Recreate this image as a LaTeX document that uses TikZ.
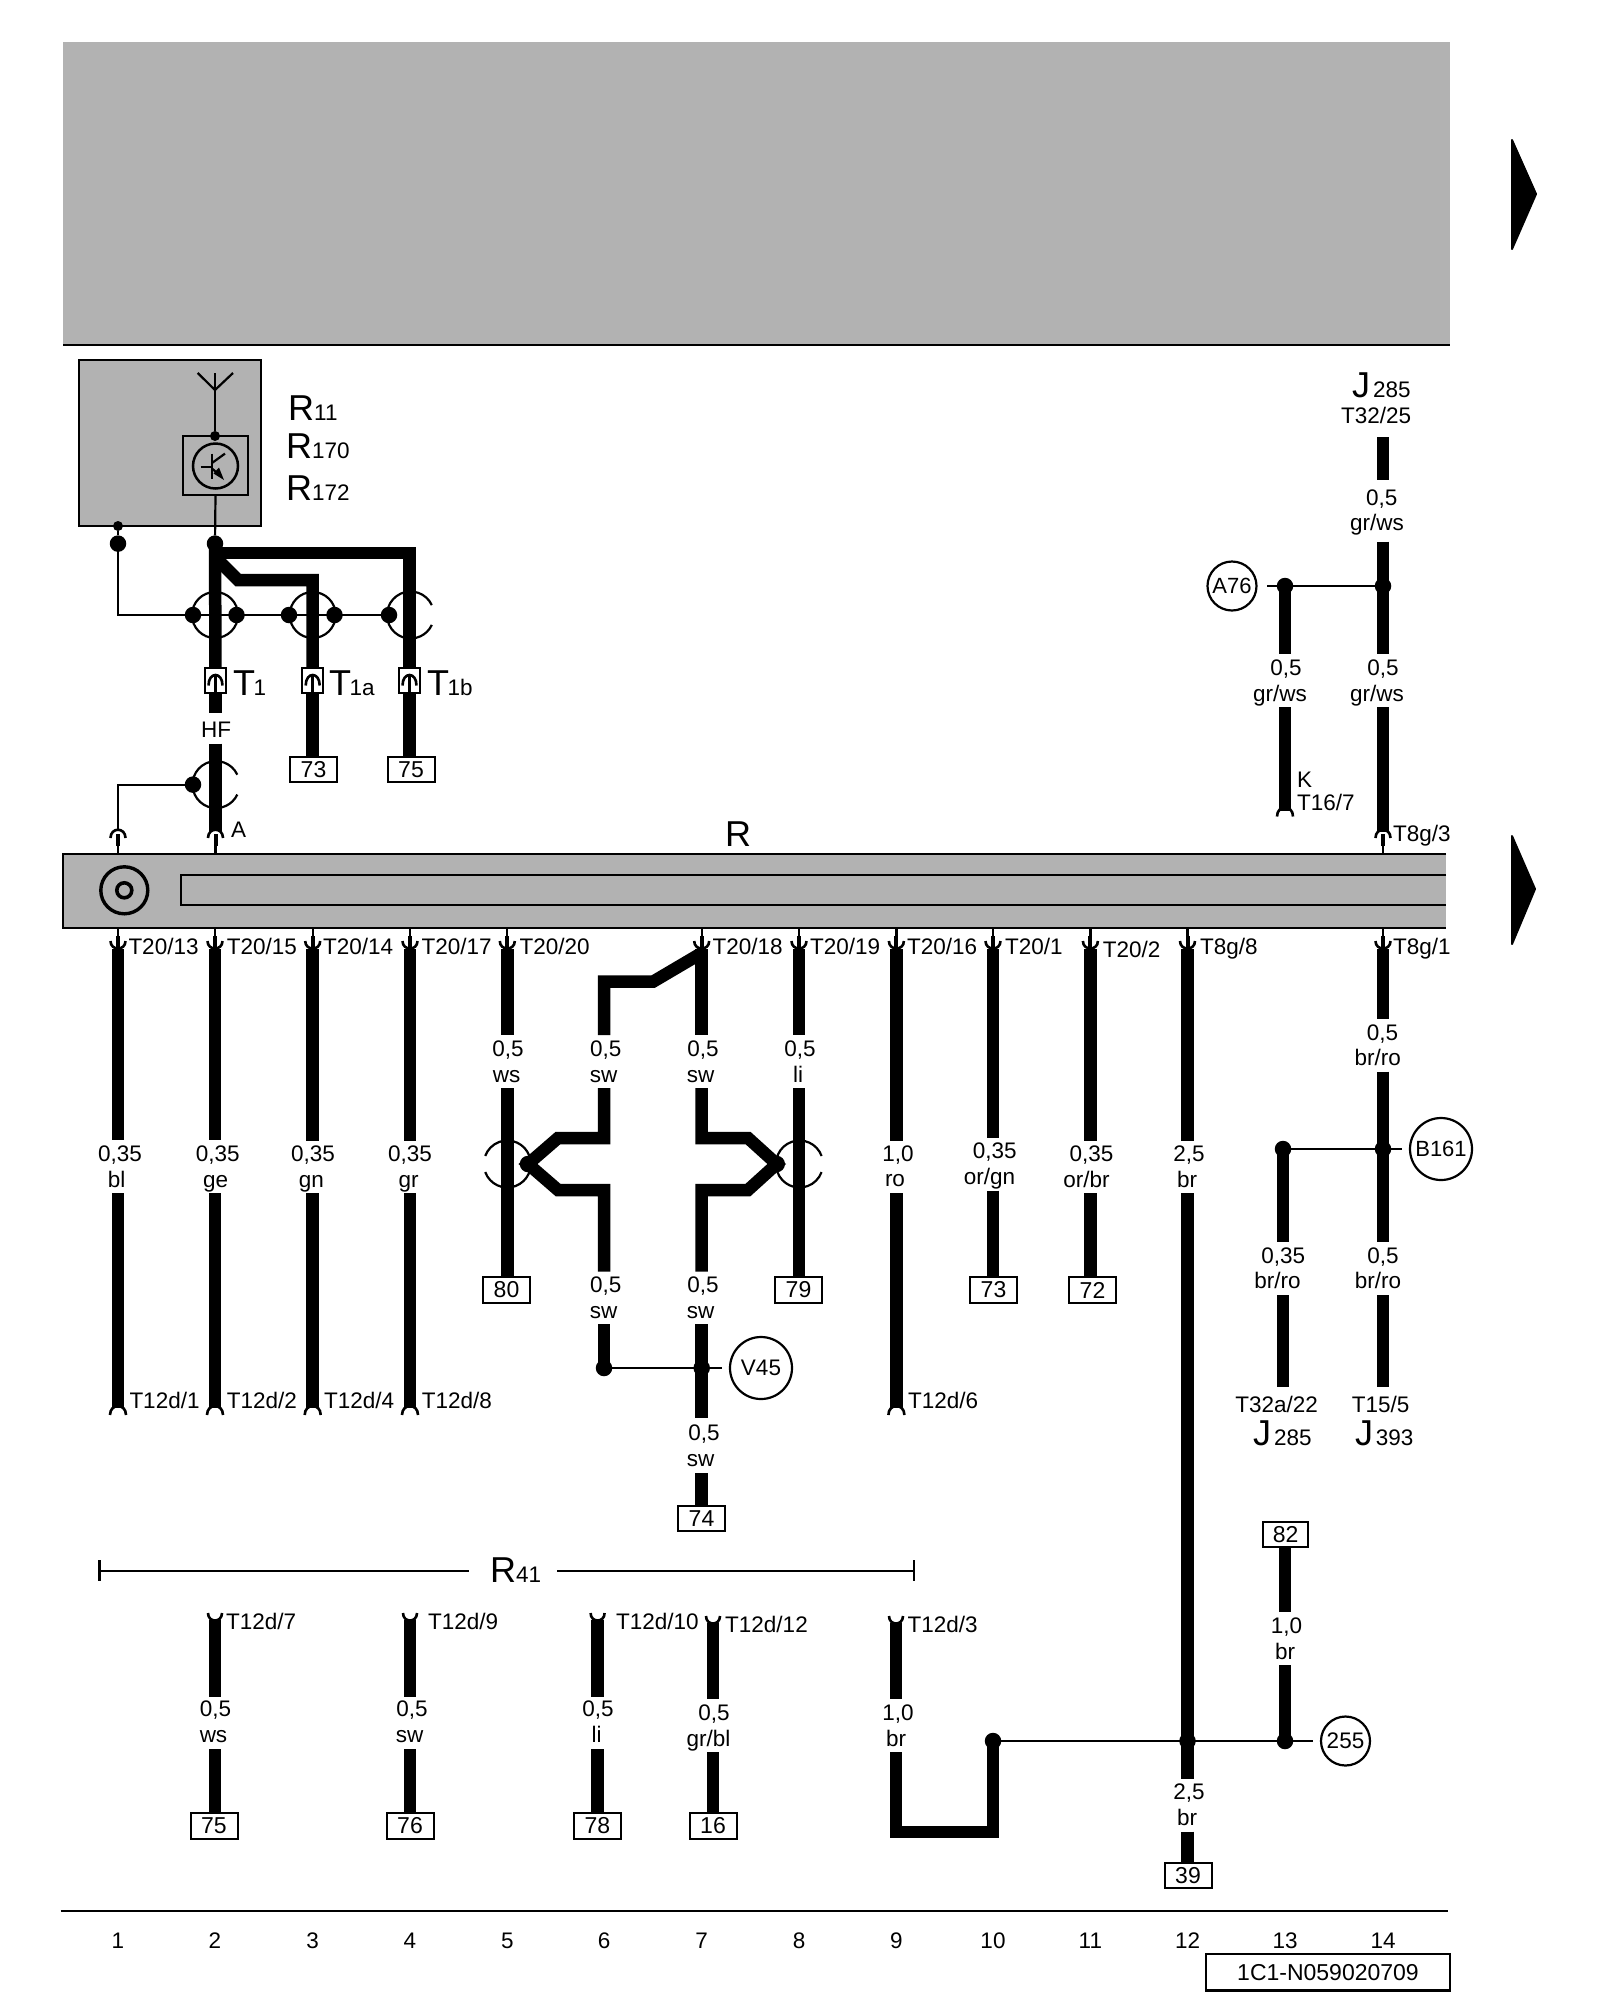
\documentclass[tikz,border=0pt]{standalone}
\usepackage{fontspec}
\setmainfont{Liberation Sans}
\definecolor{grayfill}{HTML}{B2B2B2}
\newcounter{lb}
\newcommand\fs[1]{\fontsize{#1}{#1}\selectfont}
\tikzset{
  wire/.style={line width=12.5pt,line join=miter,line cap=butt},
  thinw/.style={line width=2.2pt},
  capline/.style={line width=2.6pt},
  dotn/.style={circle,fill=black,inner sep=0pt,minimum size=16.5pt,outer sep=0pt},
  dots/.style={circle,fill=black,inner sep=0pt,minimum size=10pt,outer sep=0pt},
  numbox/.style={draw=black,fill=white,line width=2pt,inner sep=0pt,minimum width=47pt,minimum height=25.5pt,outer sep=0pt,font=\fs{23}},
  circn/.style={draw=black,fill=white,circle,line width=2.2pt,inner sep=0pt,outer sep=0pt,font=\fs{22.5}},
  tx/.style={font=\fs{22.5},inner sep=0pt,anchor=base west},
  tc/.style={font=\fs{22.5},inner sep=0pt,anchor=base},
  bigt/.style={font=\fs{36},inner sep=0pt,anchor=base west},
  subt/.style={font=\fs{22.5},inner sep=0pt,anchor=base west},
  conbox/.style={draw=black,fill=white,line width=2pt,inner sep=0pt,minimum width=21pt,minimum height=25pt,outer sep=0pt},
  shield/.style={line width=2.2pt}
}
\newcommand\lab[4]{\stepcounter{lb}\node[#1] (lb\arabic{lb}) at (#2,#3) {#4};}
\newcommand\wseg[4]{\coordinate (#1a) at (#2,#3);\coordinate (#1b) at (#2,#4);\draw[wire] (#1a) -- (#1b);}
\newcommand\pair[6]{\lab{tc}{#1}{#3}{#5}\lab{tc}{#2}{#4}{#6}}
\newcommand\cupdown[1]{%
  \draw[thinw] (#1,928) -- (#1,940);
  \draw[line width=4pt] (#1,936) -- (#1,947);
  \draw[capline] (#1-7.5,941) .. controls (#1-7.5,951) and (#1+7.5,951) .. (#1+7.5,941);
}
\newcommand\plugup[1]{%
  \draw[thinw] (#1,854) -- (#1,842);
  \draw[line width=4pt] (#1,846) -- (#1,834);
  \draw[capline] (#1-7.5,838) .. controls (#1-7.5,827) and (#1+7.5,827) .. (#1+7.5,838);
}
\newcommand\capend[2]{\draw[capline] (#1-8,#2) .. controls (#1-8,#2-12) and (#1+8,#2-12) .. (#1+8,#2);}
\newcommand\cuptop[2]{\draw[capline] (#1-7,#2) .. controls (#1-7,#2+10) and (#1+7,#2+10) .. (#1+7,#2);}
\newcommand\tbox[3]{%
  \node[conbox] (#1) at (#2,#3) {};
  \draw[capline] (#2-7,#3+5) .. controls (#2-7,#3-9) and (#2+7,#3-9) .. (#2+7,#3+5);
  \draw[line width=3pt] (#2,#3-5) -- (#2,#3+12);
}
\newcommand\shieldgap[4]{\draw[shield] ([shift={(#1,#2)}]#3:23.5pt) arc[start angle=#3,end angle=#4,radius=23.5pt];}
\begin{document}
\begin{tikzpicture}[x=1pt,y=-1pt]
\useasboundingbox (0,0) rectangle (1600,2000);
\fill[grayfill] (63,42) rectangle (1450,345);
\draw[line width=2.5pt] (63,345) -- (1450,345);
\fill[black,line join=round,draw=black,line width=2pt] (1512,140) -- (1536,194) -- (1512,249) -- cycle;
\fill[black,line join=round,draw=black,line width=2pt] (1512,836) -- (1535,889) -- (1512,944) -- cycle;
\node[draw=black,fill=grayfill,line width=2.2pt,minimum width=182pt,minimum height=166pt,inner sep=0pt,outer sep=0pt] (Rbox) at (170,443) {};
\node[draw=black,fill=grayfill,line width=2.2pt,minimum width=65pt,minimum height=59pt,inner sep=0pt,outer sep=0pt] (Rinner) at (215.5,465.5) {};
\node[circle,draw=black,line width=2.5pt,minimum size=45pt,inner sep=0pt,outer sep=0pt] (Rtr) at (215.5,466) {};
\coordinate (ant) at (215,390);
\coordinate (antL) at (197.7,373);
\coordinate (antR) at (233,373);
\coordinate (antT) at (215,373);
\draw[thinw] (antL) -- (ant) -- (antR);
\draw[thinw] (antT) -- (ant);
\node[dots] (dInner) at (215,436) {};
\draw[thinw] (ant) -- (dInner);
\draw[line width=2.4pt] (212,453.6) -- (212,479);
\draw[line width=2.2pt] (200.7,466.8) -- (212,466.8);
\draw[line width=2.2pt] (212,463) -- (225,453.6);
\draw[line width=2.2pt] (212,468.6) -- (221,476);
\fill (224,480) -- (213.5,473.5) -- (219,467.5) -- cycle;
\node[dots] (dSmall) at (118,526) {};
\node[dotn] (dL) at (118,543.6) {};
\node[dotn] (dM) at (215,543.6) {};
\draw[thinw] (dSmall) -- (dL);
\draw[thinw] (Rinner.south) -- (dM);
\draw[shield] (215,615) circle[radius=23];
\draw[shield] (312.7,615) circle[radius=23];
\shieldgap{410.5}{615}{25}{335}
\shieldgap{216}{784.6}{25}{335}
\node[dotn] (s1) at (193,615) {};
\node[dotn] (s2) at (236.5,615) {};
\node[dotn] (s3) at (289,615) {};
\node[dotn] (s4) at (334.5,615) {};
\node[dotn] (s5) at (389,615) {};
\draw[thinw] (dL.center) |- (s1.center);
\draw[thinw] (s1.center) -- (s2.center) -- (s3.center) -- (s4.center) -- (s5.center);
\node[numbox] (b73) at (313.5,769.5) {73};
\node[numbox] (b75) at (411,769.5) {75};
\tbox{t1}{215.5}{680.5}
\tbox{t1a}{312.7}{680.5}
\tbox{t1b}{409.5}{680.5}
\draw[wire] (dM.center) -- (t1.north);
\coordinate (bendA) at (215,553);
\coordinate (bendB) at (409.5,553);
\coordinate (bendC) at (215,557);
\coordinate (bendD) at (238,580);
\coordinate (bendE) at (312.7,580);
\draw[wire] (bendA) -- (bendB) -- (t1b.north);
\draw[wire] (bendC) -- (bendD) -- (bendE) -- (t1a.north);
\draw[wire] (t1a.south) -- (t1a.south |- b73.north);
\draw[wire] (t1b.south) -- (t1b.south |- b75.north);
\coordinate (hfb) at (215.5,713);
\draw[wire] (t1.south) -- (hfb);
\wseg{hf}{215.5}{743.6}{831}
\node[dotn] (s6) at (193,784.6) {};
\coordinate (plugL) at (118,831);
\draw[thinw] (s6.center) -| (plugL);
\lab{tc}{216}{737.5}{HF}
\lab{tx}{231}{837.5}{A}
\lab{bigt}{288}{420}{R}\lab{subt}{314}{420}{11}
\lab{bigt}{286}{458}{R}\lab{subt}{312}{458}{170}
\lab{bigt}{286}{500}{R}\lab{subt}{312}{500}{172}
\lab{bigt}{233}{695}{T}\lab{subt}{253.5}{695}{1}
\lab{bigt}{329}{695}{T}\lab{subt}{349.5}{695}{1a}
\lab{bigt}{427}{695}{T}\lab{subt}{447.5}{695}{1b}
\fill[grayfill] (63,854) rectangle (1446,928);
\draw[line width=2.2pt] (1446,854) -- (63,854) -- (63,928) -- (1446,928);
\draw[line width=2.2pt] (1446,875) -- (181,875) -- (181,905) -- (1446,905);
\node[circle,draw=black,line width=3.4pt,minimum size=47pt,inner sep=0pt] (wash) at (124.3,890.3) {};
\node[circle,draw=black,line width=3.6pt,minimum size=15pt,inner sep=0pt] (washi) at (124.3,890.3) {};
\lab{tc}{738}{846}{\fs{36}R}
\plugup{118}\plugup{215.5}\plugup{1383}
\foreach \xx in {118,215,312.7,410,507.3,701.7,799,896.4,993,1090.4,1187.5,1383}{\cupdown{\xx}}
\lab{tx}{128.3}{954.7}{T20/13}
\lab{tx}{226.7}{954.7}{T20/15}
\lab{tx}{323}{954.7}{T20/14}
\lab{tx}{421.5}{954.7}{T20/17}
\lab{tx}{519.5}{954.7}{T20/20}
\lab{tx}{712.5}{954.7}{T20/18}
\lab{tx}{810}{954.7}{T20/19}
\lab{tx}{907}{954.7}{T20/16}
\lab{tx}{1005}{954.7}{T20/1}
\lab{tx}{1102.6}{957.3}{T20/2}
\lab{tx}{1200}{954.7}{T8g/8}
\lab{tx}{1393}{954.7}{T8g/1}
\wseg{c1u}{118}{949}{1140}\wseg{c1l}{118}{1193}{1408}
\wseg{c2u}{215}{949}{1140}\wseg{c2l}{215}{1193}{1408}
\wseg{c3u}{312.7}{949}{1141}\wseg{c3l}{312.7}{1193}{1408}
\wseg{c4u}{410}{949}{1141}\wseg{c4l}{410}{1193}{1408}
\capend{118}{1415}\capend{215}{1415}\capend{312.7}{1415}\capend{410}{1415}
\pair{120}{116.7}{1161}{1187}{0,35}{bl}
\pair{217.7}{215.7}{1161}{1187}{0,35}{ge}
\pair{313}{311.5}{1161}{1187}{0,35}{gn}
\pair{410}{408.5}{1161}{1187}{0,35}{gr}
\lab{tx}{129.3}{1408.3}{T12d/1}
\lab{tx}{226.7}{1408.3}{T12d/2}
\lab{tx}{324}{1408.3}{T12d/4}
\lab{tx}{421.7}{1408.3}{T12d/8}
\node[numbox] (b80) at (506.5,1290) {80};
\wseg{c5u}{507.3}{949}{1035}
\coordinate (c5m) at (507.3,1088);
\draw[wire] (c5m) -- (c5m |- b80.north);
\pair{508}{506.5}{1056}{1082}{0,5}{ws}
\shieldgap{507.3}{1164}{-160}{160}
\node[numbox] (b79) at (798.5,1290) {79};
\wseg{c8u}{799}{949}{1035}
\coordinate (c8m) at (799,1088);
\draw[wire] (c8m) -- (c8m |- b79.north);
\pair{800}{798}{1056}{1082}{0,5}{li}
\shieldgap{799.5}{1164}{20}{340}
\coordinate (c6a) at (604,1035);
\coordinate (c6b) at (604,981.7);
\coordinate (c6c) at (653,981.7);
\coordinate (c7t) at (701.7,953);
\draw[wire] (c6a) -- (c6b) -- (c6c) -- (c7t);
\wseg{c7u}{701.7}{949}{1035}
\pair{605.7}{603.5}{1056}{1082}{0,5}{sw}
\pair{703}{700.5}{1056}{1082}{0,5}{sw}
\node[dotn] (jL) at (528,1164) {};
\node[dotn] (jR) at (776.7,1164) {};
\coordinate (l1) at (604,1088);\coordinate (l2) at (604,1138);\coordinate (l3) at (558,1138);
\coordinate (l4) at (558,1190);\coordinate (l5) at (604,1190);\coordinate (l6) at (604,1271.7);
\draw[wire] (l1) -- (l2) -- (l3) -- (jL.center) -- (l4) -- (l5) -- (l6);
\coordinate (r1) at (701.7,1088);\coordinate (r2) at (701.7,1138);\coordinate (r3) at (748,1138);
\coordinate (r4) at (748,1190);\coordinate (r5) at (701.7,1190);\coordinate (r6) at (701.7,1271.7);
\draw[wire] (r1) -- (r2) -- (r3) -- (jR.center) -- (r4) -- (r5) -- (r6);
\pair{605.7}{603.5}{1292.7}{1318.7}{0,5}{sw}
\pair{703}{700.5}{1292.7}{1318.7}{0,5}{sw}
\node[dotn] (v1) at (604,1368) {};
\node[dotn] (v2) at (701.7,1368) {};
\node[circn,minimum size=62pt] (V45) at (761,1368) {V45};
\coordinate (v2e) at (721.7,1368);
\draw[thinw] (v1.center) -- (v2.center) -- (v2e);
\coordinate (v1t) at (604,1324);
\draw[wire] (v1t) -- (v1.center);
\wseg{c7v}{701.7}{1324}{1418}
\pair{704}{700.5}{1440.5}{1466}{0,5}{sw}
\node[numbox] (b74) at (701.5,1518.5) {74};
\coordinate (c7e) at (701.7,1473);
\draw[wire] (c7e) -- (b74.north -| c7e);
\wseg{c9u}{896.4}{949}{1140.7}\wseg{c9l}{896.4}{1193}{1408}
\capend{896.4}{1415}
\pair{898}{895}{1161}{1186.7}{1,0}{ro}
\lab{tx}{908}{1408.3}{T12d/6}
\node[numbox] (b73b) at (993.5,1290) {73};
\coordinate (c10m) at (993,1190.7);
\wseg{c10u}{993}{949}{1138}
\draw[wire] (c10m) -- (c10m |- b73b.north);
\pair{994.7}{989.5}{1158.3}{1184}{0,35}{or/gn}
\node[numbox] (b72) at (1092.5,1290) {72};
\coordinate (c11m) at (1090.4,1193);
\wseg{c11u}{1090.4}{949}{1140.7}
\draw[wire] (c11m) -- (c11m |- b72.north);
\pair{1091.5}{1086.5}{1161}{1187}{0,35}{or/br}
\wseg{c12u}{1187.5}{949}{1140.7}
\pair{1189}{1187}{1161}{1187}{2,5}{br}
\node[dotn] (d12) at (1187.5,1741) {};
\coordinate (c12m) at (1187.5,1193);
\draw[wire] (c12m) -- (d12.center);
\wseg{c12l}{1187.5}{1741}{1779}
\pair{1189}{1187}{1799}{1825}{2,5}{br}
\node[numbox] (b39) at (1188,1875.5) {39};
\coordinate (c12e) at (1187.5,1831.7);
\draw[wire] (c12e) -- (c12e |- b39.north);
\lab{bigt}{1352}{397}{J}\lab{subt}{1373}{397}{285}
\lab{tx}{1341}{423}{T32/25}
\wseg{j1}{1383}{437}{480}
\pair{1381.7}{1377}{505}{530.6}{0,5}{gr/ws}
\node[dotn] (a14) at (1383,586) {};
\node[dotn] (a13) at (1285,586) {};
\node[circn,minimum size=49pt,font=\fs{22}] (A76) at (1232,586) {A76};
\coordinate (a13e) at (1267,586);
\draw[thinw] (a14.center) -- (a13.center) -- (a13e);
\wseg{j2}{1383}{541.7}{654}
\coordinate (a13b) at (1285,654);
\draw[wire] (a13.center) -- (a13b);
\pair{1286}{1280}{675.3}{701}{0,5}{gr/ws}
\pair{1383}{1377}{675.3}{701}{0,5}{gr/ws}
\wseg{j3}{1285}{707}{811}
\capend{1285}{816.5}
\lab{tx}{1297}{787}{K}
\lab{tx}{1297}{810.5}{T16/7}
\wseg{j4}{1383}{707}{832}
\lab{tx}{1393}{841.4}{T8g/3}
\wseg{k1}{1383}{949}{1019}
\pair{1382.5}{1377.8}{1040}{1065}{0,5}{br/ro}
\wseg{k2}{1383}{1071.7}{1241.7}
\node[dotn] (bR) at (1383,1149) {};
\node[dotn] (bL) at (1283,1149) {};
\node[circn,minimum size=62pt,font=\fs{22}] (B161) at (1441,1149) {B161};
\coordinate (bRe) at (1402,1149);
\draw[thinw] (bL.center) -- (bR.center) -- (bRe);
\coordinate (bLb) at (1283,1242);
\draw[wire] (bL.center) -- (bLb);
\pair{1283.3}{1277.5}{1263.3}{1288}{0,35}{br/ro}
\pair{1383}{1378}{1263.3}{1288}{0,5}{br/ro}
\wseg{k3}{1283}{1295}{1386.7}
\wseg{k4}{1383}{1295}{1386.7}
\lab{tc}{1276.7}{1412}{T32a/22}
\lab{tc}{1380.7}{1412}{T15/5}
\lab{bigt}{1253}{1445}{J}\lab{subt}{1274}{1445}{285}
\lab{bigt}{1355}{1445}{J}\lab{subt}{1375.7}{1445}{393}
\coordinate (brL) at (99.5,1571);\coordinate (brLe) at (469,1571);
\coordinate (brR) at (914,1571);\coordinate (brRs) at (557,1571);
\draw[thinw] (brL) -- (brLe);
\draw[thinw] (brRs) -- (brR);
\draw[thinw] (99.5,1560) -- (99.5,1581);
\draw[thinw] (914,1560) -- (914,1581);
\lab{bigt}{490}{1582}{R}\lab{subt}{516}{1582}{41}
\node[numbox] (b75b) at (214,1826) {75};
\node[numbox] (b76) at (410,1826) {76};
\node[numbox] (b78) at (597.3,1826) {78};
\node[numbox] (b16) at (713,1826) {16};
\wseg{m1}{215}{1620}{1697}\coordinate (m1c) at (215,1749);\draw[wire] (m1c) -- (m1c |- b75b.north);
\wseg{m2}{410}{1620}{1697}\coordinate (m2c) at (410,1749);\draw[wire] (m2c) -- (m2c |- b76.north);
\wseg{m3}{597.6}{1620}{1697}\coordinate (m3c) at (597.6,1749);\draw[wire] (m3c) -- (m3c |- b78.north);
\wseg{m4}{713}{1623}{1699}\coordinate (m4c) at (713,1752);\draw[wire] (m4c) -- (m4c |- b16.north);
\cuptop{215}{1613}\cuptop{410}{1613}\cuptop{597.6}{1613}\cuptop{713}{1616}\cuptop{896}{1616}
\lab{tx}{226}{1629.3}{T12d/7}
\lab{tx}{428}{1629.3}{T12d/9}
\lab{tx}{616}{1629.3}{T12d/10}
\lab{tx}{725}{1632.3}{T12d/12}
\lab{tx}{907.5}{1632.3}{T12d/3}
\pair{215.5}{213.5}{1716.7}{1742}{0,5}{ws}
\pair{412}{409.5}{1716.7}{1742}{0,5}{sw}
\pair{598}{596.5}{1716.7}{1742}{0,5}{li}
\pair{714}{708.5}{1720}{1746}{0,5}{gr/bl}
\pair{898}{896}{1720}{1746}{1,0}{br}
\wseg{u1}{896}{1623}{1699}
\node[dotn] (d10) at (993,1741) {};
\coordinate (u2) at (896,1752);\coordinate (u3) at (896,1832);\coordinate (u4) at (993,1832);
\draw[wire] (u2) -- (u3) -- (u4) -- (d10.center);
\node[dotn] (d13) at (1285,1741) {};
\node[circn,minimum size=49pt,font=\fs{22.5}] (n255) at (1345.5,1741) {255};
\coordinate (n255e) at (1313,1741);
\draw[thinw] (d10.center) -- (d12.center) -- (d13.center) -- (n255e);
\node[numbox,minimum width=45.5pt] (b82) at (1285.7,1534.7) {82};
\coordinate (c13a) at (1285,1612);
\draw[wire] (b82.south -| c13a) -- (c13a);
\coordinate (c13b) at (1285,1665);
\draw[wire] (c13b) -- (d13.center);
\pair{1286.6}{1285}{1633}{1659}{1,0}{br}
\coordinate (bl) at (60.6,1911);\coordinate (br) at (1448,1911);
\draw[line width=2.5pt] (bl) -- (br);
\foreach \n/\xx in {1/118,2/215,3/312.7,4/410,5/507.3,6/604,7/701.7,8/799,9/896.4,10/993,11/1090.4,12/1187.5,13/1285,14/1383}{\lab{tc}{\xx}{1948}{\n}}
\node[draw=black,line width=2.2pt,minimum width=244pt,minimum height=36.5pt,inner sep=0pt,outer sep=0pt,font=\fs{23}] (code) at (1328,1972.3) {1C1-N059020709};
\end{tikzpicture}
\end{document}
